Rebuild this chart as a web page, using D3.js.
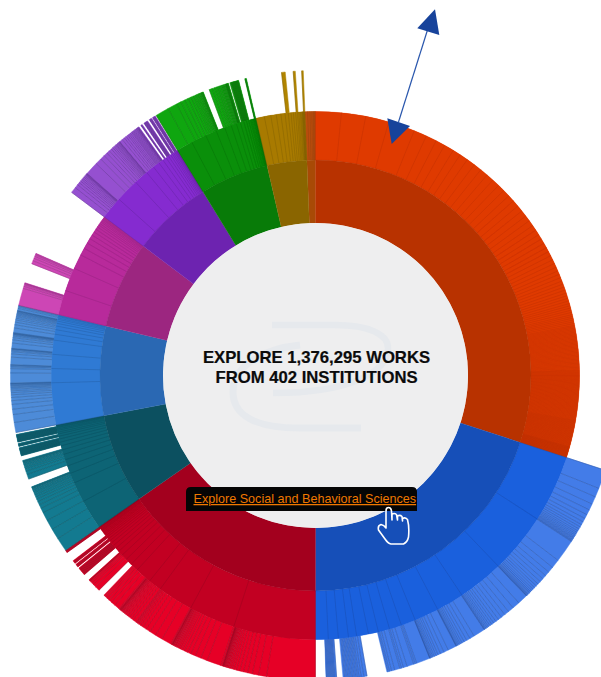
<!DOCTYPE html>
<html><head><meta charset="utf-8">
<script src="https://cdn.jsdelivr.net/npm/d3@7"></script>
<style>html,body{margin:0;padding:0;background:#fff;overflow:hidden}svg{display:block}</style>
</head><body><svg id="c" width="601" height="677"></svg>
<script>
// Number of works per top-level discipline (clockwise, read from the outer wheel)
const domains = ["Other","Arts and Humanities","Social and Behavioral Sciences","Health","Life Sciences","Biology","Physical Sciences","Engineering","Mathematics","Reference"];
const domainWorks = [8800,413300,274900,210300,92500,92100,90200,82600,70700,40895];
const ring1Colors = ["#a84a06","#b83200","#164fb8","#a3001e","#0c5060","#2a68b3","#9c2680","#6d23b0","#087b08","#8a6500"];
const ring2Colors = ["#bb4d0c","#df3a00","#1a60dd","#c20022","#0d6475","#2f7ad4","#b82a9b","#852bd0","#0a8f0a","#a87a00"];
const ring3Colors = ["#bb4d0c","#df3a00","#437ce8","#e60026","#137a90","#4d8bd8","#cd46b5","#9550d0","#0fa60f","#b08400"];
const seamColors  = ["#6a3410","#a22a00","#1c3a7c","#6d0a20","#0a3c48","#1b4474","#6e1e62","#421a70","#064f06","#5e4600"];

// Relative widths of the subject cells, per discipline
const sOther = [.6,.5,.4,.3,.2,.2,.1];
const sArts = [5.7,5.4,5.2,5.9,2.9,2.4,2.1,2.2,1.8,1.9,1.9,1.8,1.8,1.7,1.7,1.6,1.6,1.5,1.5,1.4,1.4,1.3,1.3,1.2,1.2,1.1,1.1,1.1,1,1,1,.9,.9,.9,.8,.8,.8,.7,.7,.7,.7,.6,.6,.6,.6,.5,.5,.5,.5,.5,.4,.4,.4,.4,.4,.4,
 .3,.3,.3,.3,.3,.3,.3,.3,.3,.3,.3,.3,.3,.3,.3,.3,.3,.3,.3,.3,.3,.3,.3,.3,.3,.3,.3,.3,.3,.3,.3,.3,.3,
 .2,.2,.2,.2,.2,.2,.2,.2,.2,.2,.2,.2,.2,.2,.2,.2,.2,.2,.2,.2,.2,.2,.2,.2,.2,.2,.2,.2,.2,.2,.2,.2,.2,.2,.2,.2,.2,.2,.2,.2,.2,.2,.2,.2,.2,.2,.2,.2,.2,.2,.2,.2,.2,.2,.2,
 .15,.15,.15,.15,.15,.15,.15,.15,.15,.15,.15,.15,.15,.15,.15,.15,.15,.15,.15,.15,.15,.15,.15,.15,.15,.15,.15,.15,.15,.15,.15,.15,.15,.15,.15,.15,.15,.15,.15,.15,
 .1,.1,.1,.1,.1,.1,.1,.1,.1,.1,.1,.1,.1,.1,.1,.1,.1,.1,.1,.1,.1,.1,.1,.1,.1];
const sSocial = [14.8,13.3,10.1,6.1,5.4,3.2,2.7,2.5,2.2,2.6,1.8,2.2,2.2,2.8];
const sHealth = [18,10.2,7.8,2.9,3.6,1.8,1.5,1.3,1.1,.9,.8,.7,.6,.5,.5,.4,.4,.3,.3,.3,.2,.2,.2,.2,.1,.1,.1];
const sLife = [6.4,4.4,2.2,1.7,1.4,1.2,1,.9,.8,.7,.6,.5,.4,.4,.3,.3,.2,.2,.1,.1];
const sBiology = [9.2,3.1,3.1,3.1,1.3,1,.8,.6,.5,.4,.3,.3,.2,.2];
const sPhysical = [5.4,5.1,3.2,1.6,1.3,1.1,.9,.8,.7,.6,.5,.4,.4,.3,.3,.2,.2,.2,.1];
const sEngineering = [4.7,4.9,3,1.8,1.4,1,.8,.6,.5,.4,.3,.3,.2,.2,.1,.1,.1];
const sMath = [3.6,3.4,2.5,2,1.5,1.2,.9,.8,.6,.5,.4,.3,.3,.2,.2,.1,.1,.1];
const sReference = [1.8,1.4,1.2,1,.9,.7,.6,.5,.5,.4,.3,.3,.2,.2,.1,.1,.1,.1,.1,.1];
const subjectShares = [sOther,sArts,sSocial,sHealth,sLife,sBiology,sPhysical,sEngineering,sMath,sReference];

// Relative widths of the topic cells; a negative number is an empty stretch of the outer ring
const tOther = [-2.3];
const tArts = [-108.1];
const tSocial = [3.6,1.7,1.5,1.2,1,.8,.7,.6,.5,.45,.4,.35,.3,.3,.25,.25,.2,.2,.2,.15,.15,
 4.3,1.7,1.1,.9,.8,.7,.6,.5,.45,.4,.35,.3,.25,.2,.2,.15,.15,.1,.1,
 1.9,1.4,1.1,.9,.8,.7,.6,.5,.45,.4,.35,.3,.25,.2,.15,.1,
 2.2,.9,.7,.55,.45,.35,.3,.25,.2,.1,.1,
 1.6,.9,.7,.5,.4,.35,.3,.25,.2,.15,.05,
 2.6,.3,.3, 1.3,.7,.4,.3, 1,.6,.4,.3,.2,
 -3.8, .6,.5,.4,.3,.3,.3,.3,.3,.3,.3,.3,.3,.3, -1.2, .3,.2,.2,.2,.2,.2,.2,.2,.2,.1, -2];
const tHealth = [9.2,1.5,1.2,.9,.8,.7,.6,.5,.4,.35,.3,.25,.2,.2,.15,.15,.1,.1,.1,.3,
 2.7,1.3,1.1,.9,.7,.6,.5,.4,.35,.3,.25,.2,.2,.15,.15,.1,.1,.2,
 1.9,1.4,1.2,.9,.7,.5,.4,.3,.2,.2,
 .6,.5,.45,.4,.35,.3,.25,.2,.2,.15,.15,.1,.1,.1,.2,
 1,.8,.6,.5,.4,.3,.2,
 -1.3, .9,.6,.4,.3,.2,.1,.1,.1, -1.3,
 .1,.1,.1,.1,.1,.1,.1,.1,.1,.1,.1,.1,.1,.1,.1,.1, -.3,.1,.1,.1,.1,.1,.1, -.25,.1,.1,.1,.1,.1,.1,
 -1.9, .1,.1,.1,.1,.1];
const tLife = [2.9,2.2,2.1,1.8,1,.8,.7,.6,.5,.45,.4,.35,.3,.25,.2,.15,.1, -1.7,
 1,.7,.5,.4,.35,.3,.25,.2,.15,.15, -1,
 .1,.1,.1,.1,.1,.1,.1,.1,.1,.1,.1,.1,.1,.1,.1,.1,.1, -.3,
 .1,.1,.1,.1,.1,.1, -.3,
 .1,.1,.1,.1,.1,.1,.1,.1,.1,.1,.1,.1,.1,.1,.1,.1, -.4];
const tBiology = [1.9,1.5,1,.9,.7,.6,.5,.4,.35,.3,.25,.2,.2,.15,.15,.1,.1,
 1.9,.8,.3,.2,.15,.1, 1.4,.6,.4,.25,.2,.1,.1, 1,.6,.4,.3,.2,.15,.1,.1,.1,
 .9,.6,.5,.4,.35,.3,.25,.2,.2,.15,.15,.1,.1, .4,.3,.2,.1];
const tPhysical = [3.3,.4,.3,.2,.1,.1, -3.8, .6,.5,.4,.3,.2,.1, -13.3];
const tEngineering = [1.1,.7,.5,.4,.35,.3,.3,.25,.2,.15,.1,.1,.1,
 2.5,1.2,.9,.7,.6,.5,.4,.3,.3,.2,.2,.2,.15,.15,.1,.1,
 .6,.5,.4,.4,.3,.3,.3,.2,.2,.2,.2,.2,.15,.15,.1,.1,.1,.1,
 -.45,.1,.1,.1,-.4,.1,.1,.1,.1,.1,.1,.1,.1,-.4,.1,.1,.1,.1,.1,-.2,.1,.1,.1,.1,.1,.1,-.2];
const tMath = [2.6,1.8,.9,.8,.7,.6,.5,.4,.35,.3,.25,.2,.15,.15,.1,.1, -1.2,
 .6,.5,.4,.3,.3,.3,.2,.2,.2,.2,.1,.1,.1,.1,.1,.1, -.3,
 .2,.1,.1,.1,.1,.1,.1,.1,.1,.1,.1,.1,.1,.1,.1,.1, -1.2, .1,.1,.1, -.1];
const tReference = [-6.6,.7,-1.5,.4,-1.2,.3];
const topicShares = [tOther,tArts,tSocial,tHealth,tLife,tBiology,tPhysical,tEngineering,tMath,tReference];

const centerLines = ["EXPLORE 1,376,295 WORKS","FROM 402 INSTITUTIONS"];
const tooltipText = "Explore Social and Behavioral Sciences";

const W = 601, H = 677, cx = 315.5, cy = 375.5;
const radii = [152.5, 215.5, 264, 305];
const deg = Math.PI / 180;
const svg = d3.select("#c");
const g = svg.append("g").attr("transform", `translate(${cx},${cy})`);
const total = d3.sum(domainWorks);
const angle = d3.scaleLinear().domain([0, total]).range([-2.3 * deg, 357.7 * deg]);
const arc = d3.arc();
const radial = d3.lineRadial().angle(p => p[0]).radius(p => p[1]);

// top-level layout
let acc = 0;
const dom = domainWorks.map((v, i) => { const o = {i, a0: angle(acc), a1: angle(acc + v)}; acc += v; return o; });

function layout(list, d) {
  const sum = d3.sum(list, Math.abs);
  const s = d3.scaleLinear().domain([0, sum]).range([d.a0, d.a1]);
  let t = 0; const out = [];
  list.forEach(v => { const w = Math.abs(v); if (v > 0) out.push({i: d.i, a0: s(t), a1: s(t + w)}); t += w; });
  return out;
}
const ring2 = dom.flatMap(d => layout(subjectShares[d.i], d));
const ring3 = dom.flatMap(d => layout(topicShares[d.i], d));

function path(r0, r1) {
  return d => arc({innerRadius: r0, outerRadius: r1, startAngle: d.a0, endAngle: d.a1});
}
function drawRing(cells, colors, r0, r1, fillStroke, seamWidth, seamOpacity) {
  const layer = g.append("g");
  layer.append("g").selectAll("path").data(cells).join("path")
    .attr("d", path(r0, r1)).attr("fill", d => colors[d.i])
    .attr("stroke", d => colors[d.i]).attr("stroke-width", fillStroke);
  layer.append("g").selectAll("path").data(cells).join("path")
    .attr("d", d => radial([[d.a0, r0], [d.a0, r1]])).attr("fill", "none")
    .attr("stroke", d => seamColors[d.i]).attr("stroke-width", seamWidth).attr("stroke-opacity", seamOpacity);
}
drawRing(ring3, ring3Colors, radii[2], radii[3], .5, .55, .6);
// solid base under the subject ring so hairline cells do not let white through
g.append("g").selectAll("path").data(dom).join("path")
  .attr("d", path(radii[1], radii[2])).attr("fill", d => ring2Colors[d.i]);
drawRing(ring2, ring2Colors, radii[1], radii[2], .3, .5, .45);
g.append("g").selectAll("path").data(dom).join("path")
  .attr("d", path(radii[0], radii[1])).attr("fill", d => ring1Colors[d.i])
  .attr("stroke", d => ring1Colors[d.i]).attr("stroke-width", .3);

// centre disc and watermark
svg.append("circle").attr("cx", cx).attr("cy", cy).attr("r", radii[0]).attr("fill", "#eeeeef");
svg.append("path").attr("d", "M272 325H335C370 325 388 335 388 348C388 372 350 393 273 393")
  .attr("fill", "none").attr("stroke", "#e6e9ed").attr("stroke-width", 6.5);
svg.append("path").attr("d", "M300 345C255 350 233 370 233 392C233 415 255 428 300 428H361")
  .attr("fill", "none").attr("stroke", "#e6e9ed").attr("stroke-width", 7);

svg.append("g").selectAll("text").data(centerLines).join("text")
  .attr("x", 316.5).attr("y", (d, i) => 362.5 + i * 20)
  .attr("text-anchor", "middle").attr("font-family", "Liberation Sans, Arial, sans-serif")
  .attr("font-weight", "bold").attr("font-size", 16.7).attr("fill", "#0b0b0b")
  .attr("stroke", "#0b0b0b").attr("stroke-width", .2).text(d => d);

// tooltip
svg.append("path").attr("d", "M186 511V492Q186 487 191 487H412Q417 487 417 492V511Z").attr("fill", "#050505");
svg.append("text").attr("x", 193.5).attr("y", 503).attr("font-family", "Liberation Sans, Arial, sans-serif")
  .attr("font-size", 12.6).attr("fill", "#f07800").attr("text-decoration", "underline").text(tooltipText);

// pointer hand
svg.append("path")
  .attr("d", "M386 528V511Q386 507.5 388.5 507.5Q391 507.5 391.5 511L392 520V514.5Q394 512.5 396.5 514.5L397.5 520V516Q400 514.5 402 516.5L402.5 521V518.5Q405 517 407.5 519.5Q409.5 527 408.5 537Q407.5 542 403.5 544H391Q388 543.5 385 539L378.5 530Q377.5 525.5 381 524.5Q384 525 386 528Z")
  .attr("fill", "none").attr("stroke", "#fff").attr("stroke-width", 1.6).attr("stroke-linejoin", "round");

// arrow
const arrowColor = "#17439b";
svg.append("line").attr("x1", 427.5).attr("y1", 30).attr("x2", 398.5).attr("y2", 122)
  .attr("stroke", "#2a57ad").attr("stroke-width", 1.2);
svg.append("path").attr("d", "M435 9.3L417.3 28.3L439.3 35Z").attr("fill", arrowColor);
svg.append("path").attr("d", "M391.7 144L387.3 118.3L410 126Z").attr("fill", arrowColor);
</script></body></html>
